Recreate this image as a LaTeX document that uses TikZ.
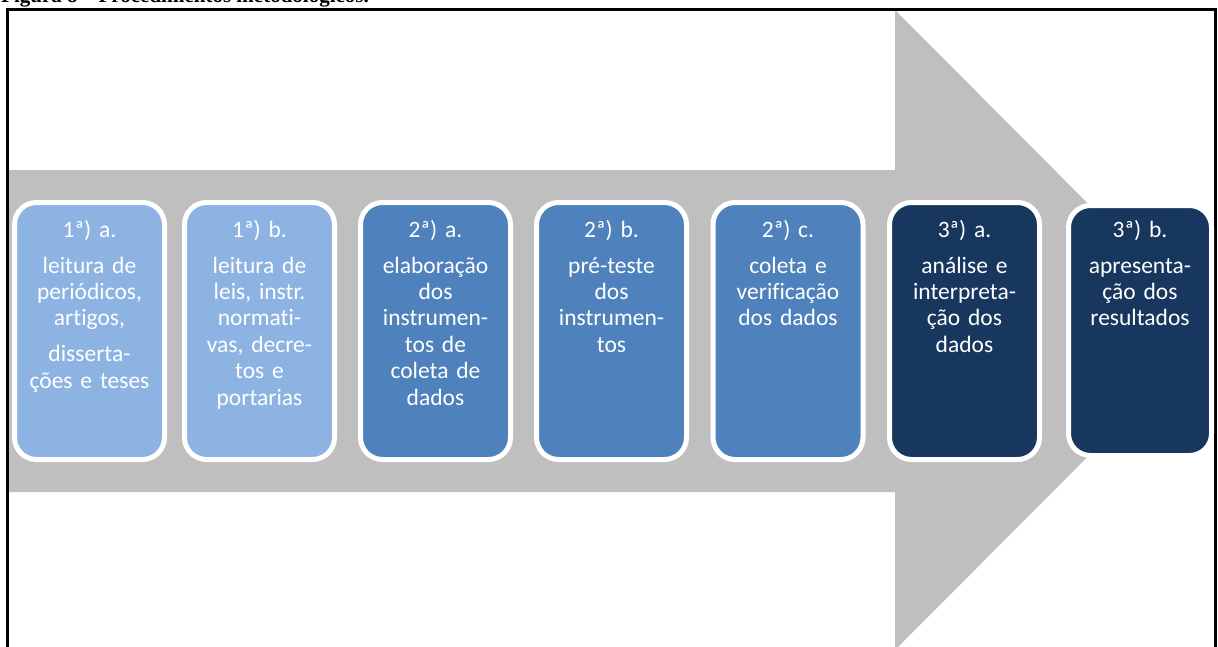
\documentclass[tikz,border=0pt]{standalone}
\usepackage{fontspec}
\setmainfont{Carlito}[Ligatures=NoCommon]
\newfontfamily\captionfont{Liberation Serif}

\definecolor{stepgray}{HTML}{BFBFBF}
\definecolor{steplight}{HTML}{8DB3E2}
\definecolor{stepmid}{HTML}{4F81BD}
\definecolor{stepdark}{HTML}{17375E}

\tikzset{
  stepbox/.style={draw=white, line width=5pt, rounded corners=22pt, inner sep=0pt,
    minimum width=150pt, minimum height=257pt},
  steptext/.style={text=white, text width=150pt, align=center, anchor=base, inner sep=0pt,
    font=\fontsize{23.5}{26.4}\selectfont},
}

\begin{document}
\begin{tikzpicture}[x=1pt,y=-1pt]
  \clip (0,0) rectangle (1218,646);
%%
  % Caption (cut at the top)
  \node[anchor=base west, inner sep=0pt, font=\captionfont\bfseries\fontsize{21}{25}\selectfont]
    (caption) at (1,2.5) {Figura 8 – Procedimentos metodológicos.};
  % Big arrow
  \fill[stepgray] (8,170) -- (895,170) -- (895,10) -- (1214,330) -- (895,650)
    -- (895,492) -- (8,492) -- cycle;
  % Frame
  \draw[line width=2.5pt] (7.5,9.5) rectangle (1215.5,680);
  % Node: 1a
  \node[stepbox, fill=steplight] (b1a) at (89.5,331) {};
  \node[steptext] (t1a) at ([yshift=-37pt]b1a.north)
    {1ª) a.\\[9.6pt]leitura de\\periódicos,\\artigos,\\[9.6pt]disserta-\\ções e teses};
  % Node: 1b
  \node[stepbox, fill=steplight] (b1b) at (259.5,331) {};
  \node[steptext] (t1b) at ([yshift=-37pt]b1b.north)
    {1ª) b.\\[9.6pt]leitura de\\leis, instr.\\normati-\\vas, decre-\\tos e\\portarias};
  % Node: 2a
  \node[stepbox, fill=stepmid] (b2a) at (435.5,331) {};
  \node[steptext] (t2a) at ([yshift=-37pt]b2a.north)
    {2ª) a.\\[9.6pt]elaboração\\dos\\instrumen-\\tos de\\coleta de\\dados};
  % Node: 2b
  \node[stepbox, fill=stepmid] (b2b) at (611.5,331) {};
  \node[steptext] (t2b) at ([yshift=-37pt]b2b.north)
    {2ª) b.\\[9.6pt]pré-teste\\dos\\instrumen-\\tos};
  % Node: 2c
  \node[stepbox, fill=stepmid] (b2c) at (788,331) {};
  \node[steptext] (t2c) at ([yshift=-37pt]b2c.north)
    {2ª) c.\\[9.6pt]coleta e\\verificação\\dos dados};
  % Node: 3a
  \node[stepbox, fill=stepdark] (b3a) at (964.5,331) {};
  \node[steptext] (t3a) at ([yshift=-37pt]b3a.north)
    {3ª) a.\\[9.6pt]análise e\\interpreta-\\ção dos\\dados};
  % Node: 3b
  \node[stepbox, fill=stepdark, minimum width=143pt, minimum height=250pt] (b3b) at (1140,330.5) {};
  \node[steptext] (t3b) at ([yshift=-34pt]b3b.north)
    {3ª) b.\\[9.6pt]apresenta-\\ção dos\\resultados};
%
\end{tikzpicture}
\end{document}
